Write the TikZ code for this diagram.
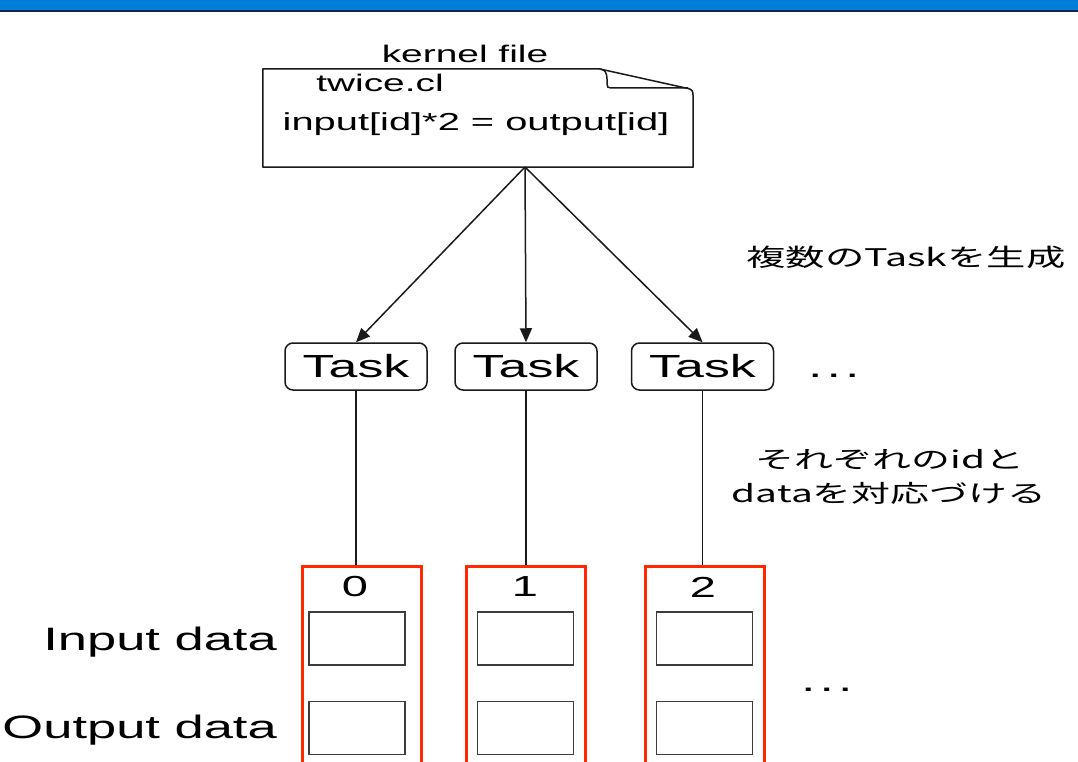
\documentclass[tikz,border=0pt]{standalone}
\usepackage{graphicx}
\usepackage{fontspec}
\setmainfont{Liberation Sans}
\newfontfamily\jp{Noto Sans CJK JP}
\usetikzlibrary{arrows.meta,calc}

\definecolor{barblue}{RGB}{0,125,214}
\definecolor{barline}{RGB}{16,38,66}
\definecolor{boxred}{RGB}{255,40,0}
\definecolor{ink}{RGB}{25,25,25}

% wide lettering: size in bp, text stretched horizontally
\newcommand{\st}[2]{\fontsize{#1bp}{#1bp}\selectfont\scalebox{1.62}[1]{#2}}
\newcommand{\spaceddots}{.\hspace{2.5bp}.\hspace{2.5bp}.}

\begin{document}
\begin{tikzpicture}[x=1bp,y=-1bp,
  txt/.style={inner sep=0pt, text=black},
  task/.style={draw=ink, line width=1.5bp, rounded corners=8bp, minimum width=142bp, minimum height=47bp, inner sep=0pt},
  slot/.style={draw=ink!85, line width=1.5bp, minimum width=96bp, minimum height=53bp, inner sep=0pt},
  lane/.style={draw=boxred, line width=3bp, minimum width=119bp, minimum height=214bp, inner sep=0pt},
  link/.style={draw=ink, line width=1.5bp},
  spawn/.style={link, -{Triangle[length=14bp,width=12bp]}},
]
\useasboundingbox (0,0) rectangle (1078,762);
\clip (0,0) rectangle (1078,762);

% header bar
\fill[barblue] (0,0) rectangle (1078,10.5);
\fill[barline] (0,10.5) rectangle (1078,12.5);

% kernel file (note shape with folded corner)
\node[minimum width=430bp, minimum height=98bp, inner sep=0pt] (doc) at (478,118) {};
\draw[link, line join=round]
  (doc.south west) -- (doc.north west) -- (600,69) coordinate (fold)
  -- (688,88.5) .. controls (692,89.5) and (693,91) .. (693,95)
  -- (doc.south east) -- cycle;
\draw[link] (fold) .. controls (605,69.5) and (607,73) .. (607,79)
  -- (607,84) .. controls (607,87) and (608,88) .. (611,88) -- (688,88);
\node[txt, anchor=base] (kf) at (465,63) {\st{24}{kernel file}};
\node[txt, anchor=base] (fname) at (380,92) {\st{24}{twice.cl}};
\node[txt, anchor=base] (code) at (476,130) {\st{24.6}{input[id]*2 = output[id]}};
\coordinate (src) at (525,167);

% tasks
\node[task] (t1) at (356,366.5) {\st{32}{Task}};
\node[task] (t2) at (526,366.5) {\st{32}{Task}};
\node[task] (t3) at (702.5,366.5) {\st{32}{Task}};
\node[txt, anchor=base west] (tdots) at (808,377) {\st{32}{\spaceddots}};

\draw[spawn] (src) -- (t1.north);
\draw[spawn] (src) -- (t2.north);
\draw[spawn] (src) -- (t3.north);

% data lanes
\node[lane] (l1) at (361.5,673) {};
\node[lane] (l2) at (525.5,673) {};
\node[lane] (l3) at (704.5,673) {};

\node[txt] (n0) at (355,587) {\st{29}{0}};
\node[txt] (n1) at (525,587) {\st{29}{1}};
\node[txt] (n2) at (703,587) {\st{29}{2}};

\node[slot] (i1) at (357,638.5) {};
\node[slot] (i2) at (525.5,638.5) {};
\node[slot] (i3) at (704.5,638.5) {};
\node[slot] (o1) at (357,728) {};
\node[slot] (o2) at (525.5,728) {};
\node[slot] (o3) at (704.5,728) {};

\node[txt, anchor=base east] (inlab) at (277,650) {\st{32.4}{Input data}};
\node[txt, anchor=base east] (outlab) at (277,738) {\st{32.4}{Output data}};
\node[txt, anchor=base west] (ldots) at (801,691) {\st{32}{\spaceddots}};

\draw[link] (t1.south) -- (t1.south |- l1.north);
\draw[link] (t2.south) -- (t2.south |- l2.north);
\draw[link] (t3.south) -- (t3.south |- l3.north);

% notes
\node[txt] (gen) at (906,257) {\jp\st{24.3}{複数のTaskを生成}};
\node[txt] (map1) at (890,460) {\jp\st{24}{それぞれのidと}};
\node[txt] (map2) at (889,493) {\jp\st{24}{dataを対応づける}};
\end{tikzpicture}
\end{document}
